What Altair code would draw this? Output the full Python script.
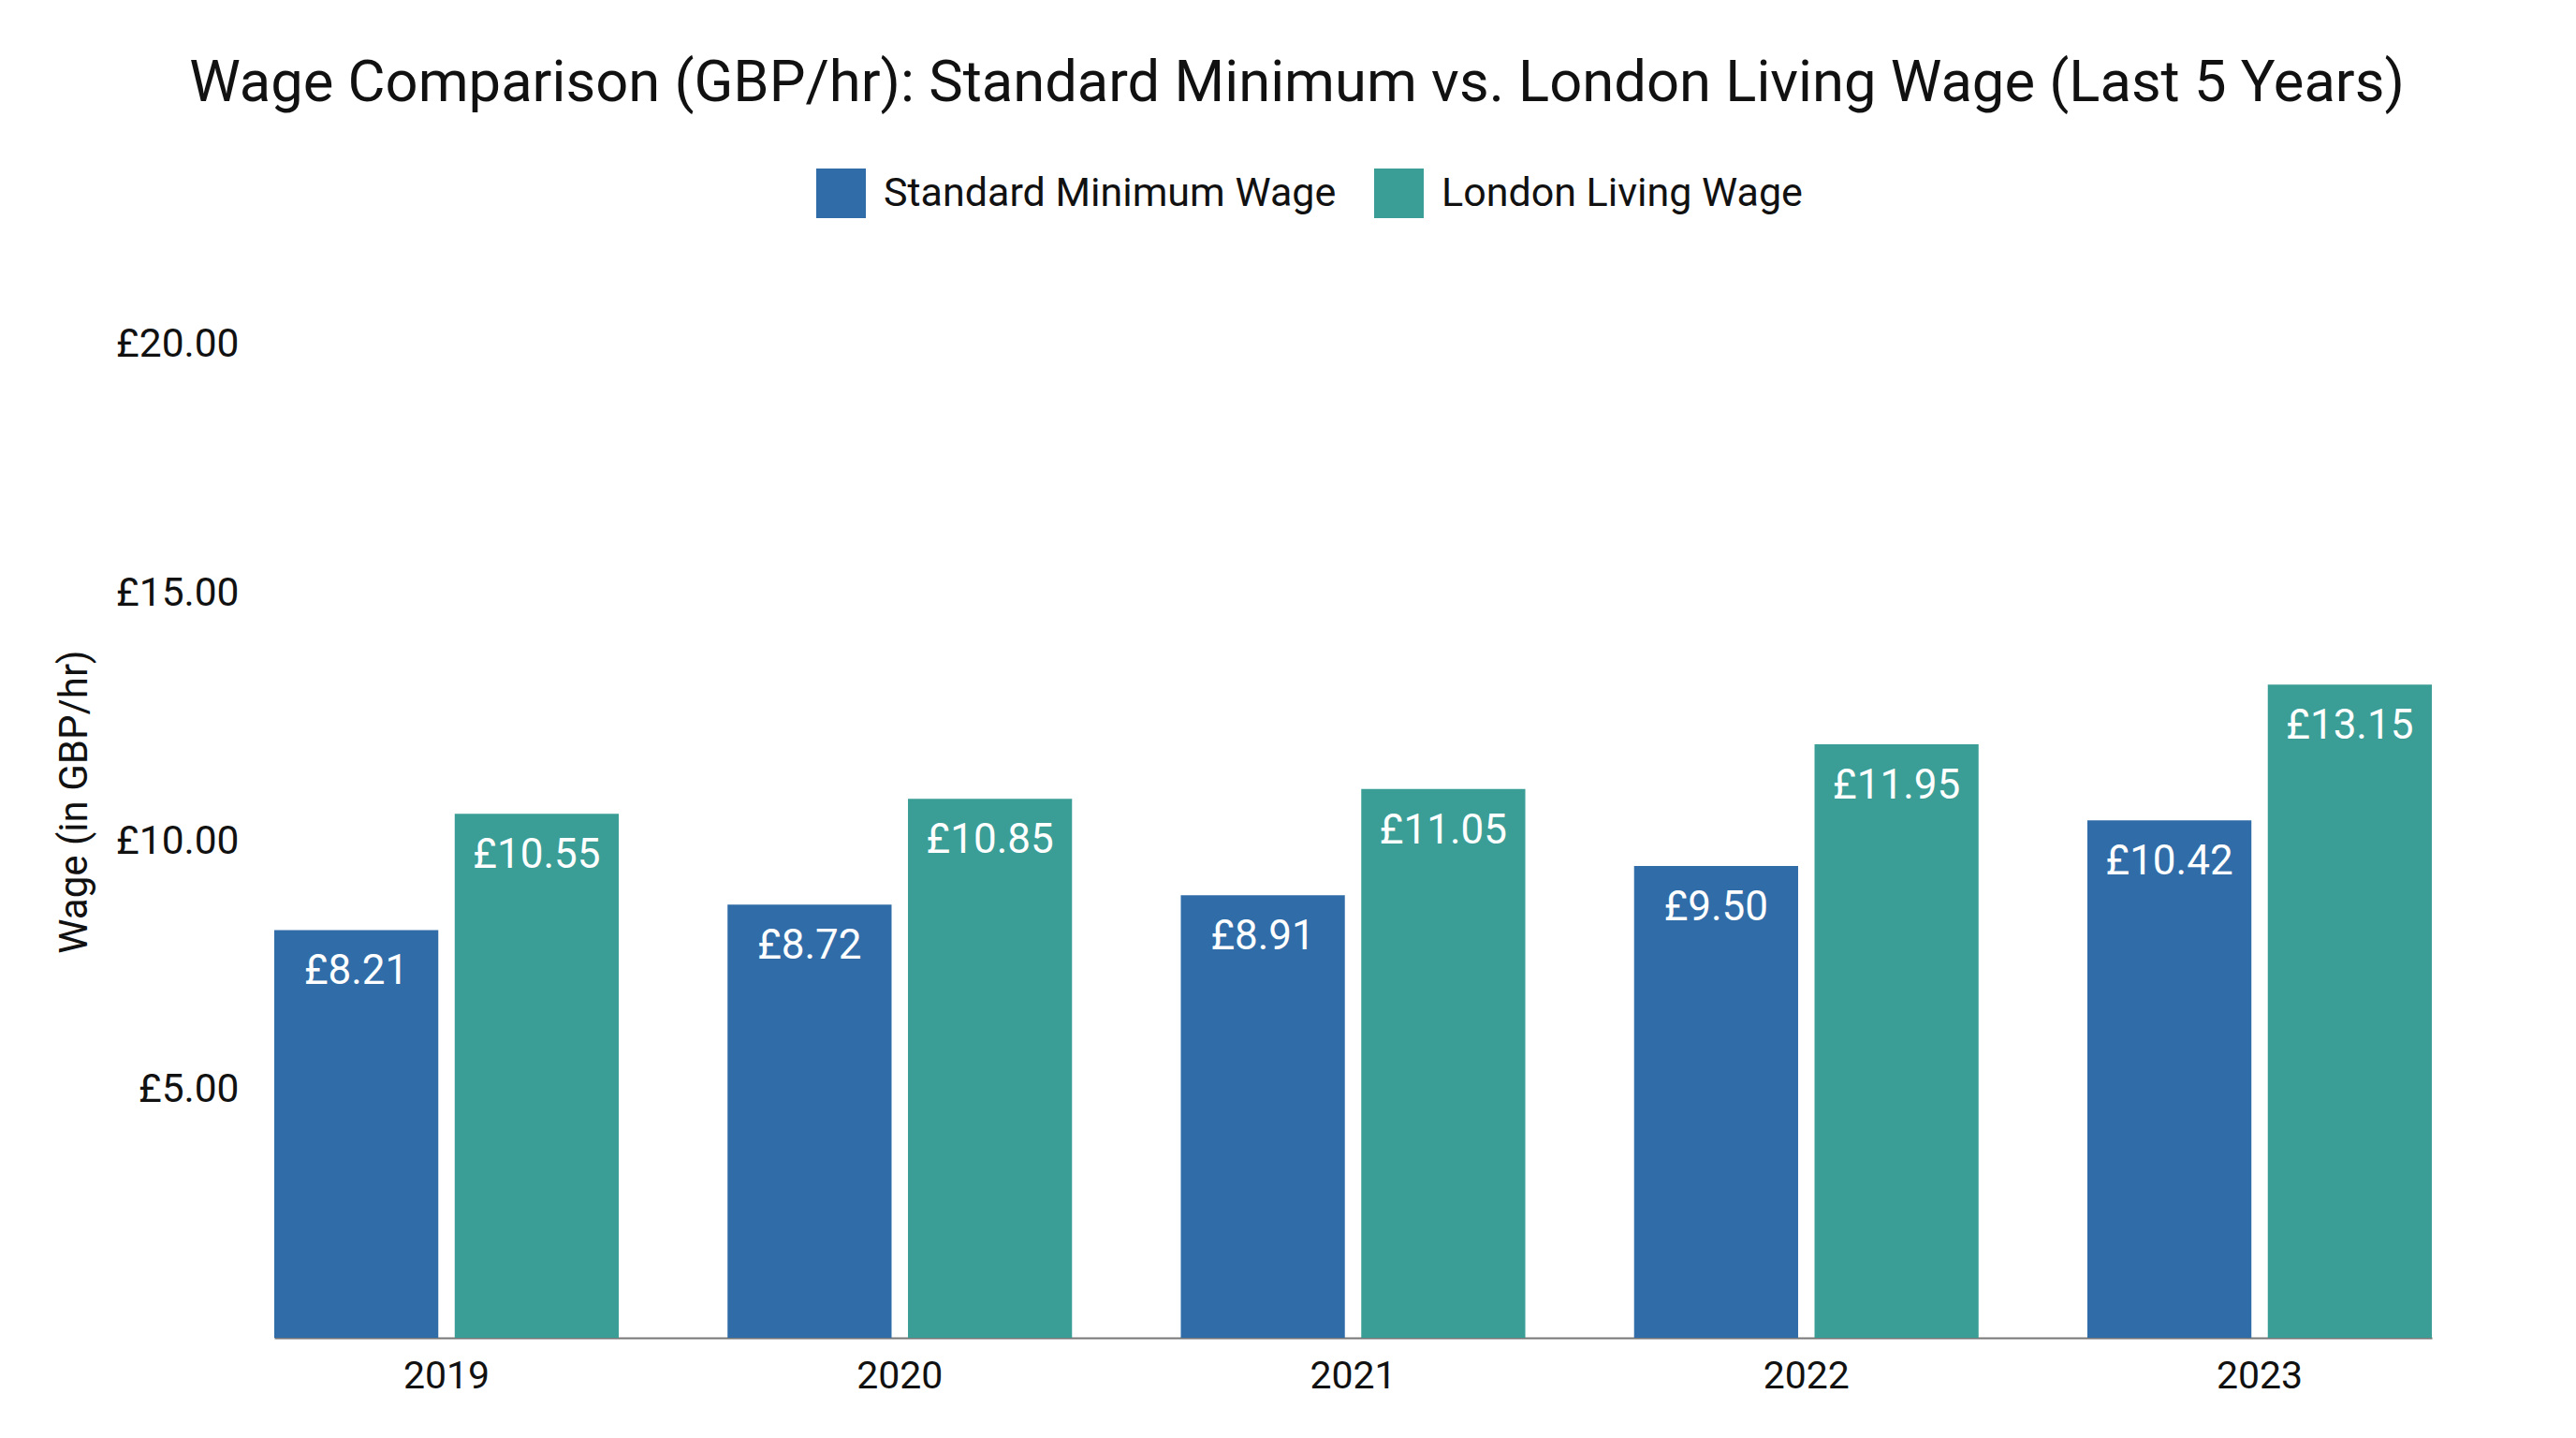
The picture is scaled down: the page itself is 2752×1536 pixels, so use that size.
import altair as alt
import pandas as pd

years = ["2019", "2020", "2021", "2022", "2023"]
standard_min = [8.21, 8.72, 8.91, 9.50, 10.42]
london_living = [10.55, 10.85, 11.05, 11.95, 13.15]
series = ["Standard Minimum Wage", "London Living Wage"]
colors = ["#306DA8", "#3A9E96"]
y_ticks = [5, 10, 15, 20]

rows = []
for i, yr in enumerate(years):
    rows.append({"year": yr, "series": series[0], "wage": standard_min[i]})
    rows.append({"year": yr, "series": series[1], "wage": london_living[i]})
df = pd.DataFrame(rows)

FONT = "Roboto"

base = alt.Chart(df).encode(
    x=alt.X(
        "year:N",
        sort=years,
        scale=alt.Scale(paddingInner=0.24, paddingOuter=0),
        axis=alt.Axis(
            title=None, labelAngle=0, ticks=False, domain=True,
            domainColor="#777777", domainWidth=2,
            labelFontSize=41, labelPadding=21, labelColor="#111111", labelFont=FONT,
        ),
    ),
    xOffset=alt.XOffset("series:N", sort=series, scale=alt.Scale(paddingInner=0.0909, paddingOuter=0)),
    y=alt.Y(
        "wage:Q",
        scale=alt.Scale(domain=[0, 21.6], nice=False),
        axis=alt.Axis(
            values=y_ticks, grid=False, domain=False, ticks=False,
            labelExpr="'£' + format(datum.value, '.2f')",
            labelFontSize=42.5, labelPadding=38, labelColor="#111111", labelFont=FONT,
            title="Wage (in GBP/hr)", titleFontSize=42, titleFontWeight="normal",
            titleFont=FONT, titleColor="#111111", titlePadding=22,
        ),
    ),
)

bars = base.mark_bar().encode(
    color=alt.Color(
        "series:N", sort=series,
        scale=alt.Scale(domain=series, range=colors),
        legend=alt.Legend(
            title=None, orient="none", direction="horizontal",
            legendX=579, legendY=-103,
            symbolType="square", symbolSize=2809, symbolStrokeWidth=0,
            symbolOpacity=1, labelLimit=0,
            labelFontSize=43, labelFont=FONT, labelColor="#111111",
            labelOffset=19, columnPadding=40,
        ),
    )
)

labels = base.transform_calculate(
    label="'£' + format(datum.wage, '.2f')"
).mark_text(
    baseline="top", dy=23, color="white", font=FONT, fontSize=44
).encode(text="label:N")

chart = (bars + labels).properties(
    width=2305,
    height=1146,
    background="white",
    title=alt.Title(
        "Wage Comparison (GBP/hr): Standard Minimum vs. London Living Wage (Last 5 Years)",
        fontSize=61.5, font=FONT, fontWeight="normal", color="#111111",
        anchor="middle", frame="group", dx=-60, offset=60,
    ),
    padding={"left": 50, "top": 50, "right": 20, "bottom": 20},
).configure_view(stroke=None, strokeWidth=0)

chart.save("out.html", embed_options={"renderer": "svg", "actions": False})
